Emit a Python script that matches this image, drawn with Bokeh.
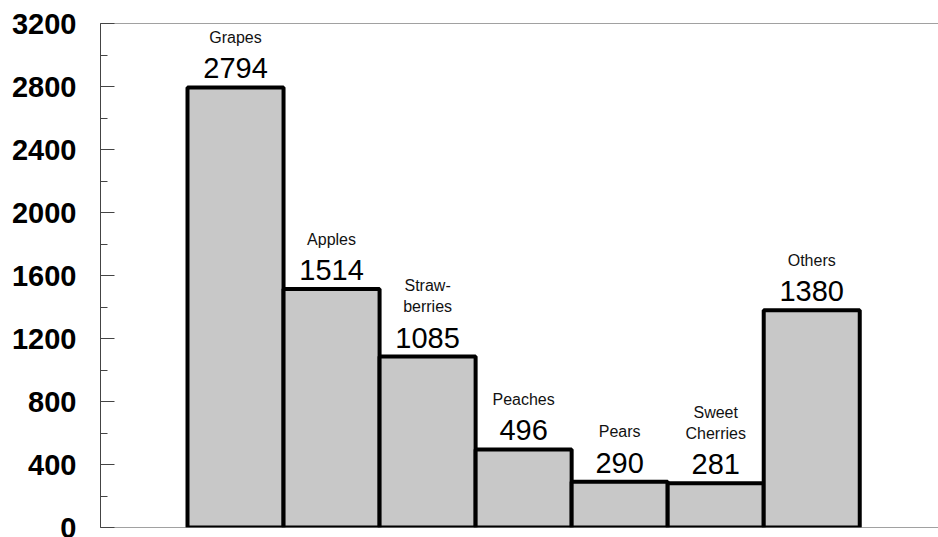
from bokeh.plotting import figure
from bokeh.models import ColumnDataSource, Range1d, SingleIntervalTicker, Span
from bokeh.core.properties import value
from bokeh.embed import file_html
from bokeh.resources import INLINE

# Data
fruits = ["Grapes", "Apples", "Straw-\nberries", "Peaches", "Pears", "Sweet\nCherries", "Others"]
amounts = [2794, 1514, 1085, 496, 290, 281, 1380]
y_ticks_interval = 400

xs = list(range(len(fruits)))
line1 = []
line2 = []
for f in fruits:
    parts = f.split("\n")
    if len(parts) == 2:
        line1.append(parts[0]); line2.append(parts[1])
    else:
        line1.append(""); line2.append(parts[0])

src = ColumnDataSource(dict(x=xs, top=amounts, val=[str(a) for a in amounts],
                            l1=line1, l2=line2))

p = figure(width=938, height=537, output_backend="svg", toolbar_location=None,
           x_range=Range1d(-1.406, 7.32), y_range=Range1d(0, 3200),
           min_border_left=100, min_border_right=0, min_border_top=23, min_border_bottom=10)
p.outline_line_color = None
p.xgrid.visible = False
p.ygrid.visible = False
p.xaxis.visible = False

p.vbar(x="x", top="top", bottom=0, width=1.0, source=src,
       fill_color="#c8c8c8", line_color="black", line_width=4)

font = value("Liberation Sans")
p.text(x="x", y="top", text="val", source=src, y_offset=-19,
       text_align="center", text_baseline="alphabetic",
       text_font=font, text_font_size="29px", text_color="black")
p.text(x="x", y="top", text="l2", source=src, y_offset=-50,
       text_align="center", text_baseline="alphabetic",
       text_font=font, text_font_size="16px", text_color="#111111")
p.text(x="x", y="top", text="l1", source=src, y_offset=-71,
       text_align="center", text_baseline="alphabetic",
       text_font=font, text_font_size="16px", text_color="#111111")

ya = p.yaxis[0]
ya.ticker = SingleIntervalTicker(interval=y_ticks_interval, num_minor_ticks=2)
ya.major_tick_in = 14
ya.major_tick_out = 0
ya.minor_tick_in = 7
ya.minor_tick_out = 0
ya.major_label_standoff = 24
ya.major_label_text_font = "Liberation Sans"
ya.major_label_text_font_style = "bold"
ya.major_label_text_font_size = "29px"
ya.major_label_text_color = "black"
ya.axis_line_color = "#444444"
ya.major_tick_line_color = "#444444"
ya.minor_tick_line_color = "#444444"

p.add_layout(Span(location=0, dimension="width", line_color="#444444", line_width=1))
p.add_layout(Span(location=3200, dimension="width", line_color="#444444", line_width=1))

open("out.html", "w").write(file_html(p, INLINE))
